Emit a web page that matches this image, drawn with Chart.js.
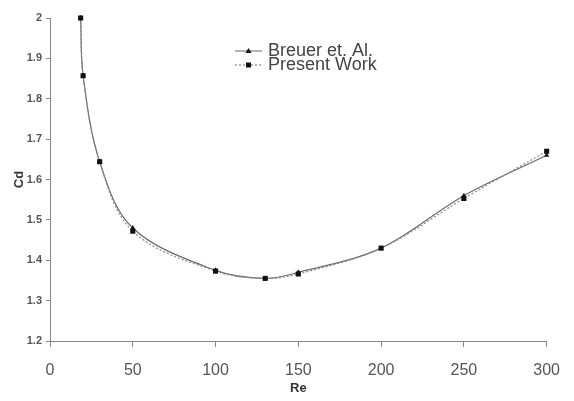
<!DOCTYPE html>
<html>
<head>
<meta charset="utf-8">
<script src="https://cdn.jsdelivr.net/npm/chart.js@4"></script>
<style>
  html, body { margin: 0; padding: 0; background: #fff; }
  #wrap { width: 574px; height: 401px; }
</style>
</head>
<body>
<div id="wrap"><canvas id="myChart" width="574" height="401"></canvas></div>
<script>
"use strict";
// values
var re = [18.5, 20, 30, 50, 100, 130, 150, 200, 250, 300];
var breuer = [2.0, 1.857, 1.644, 1.48, 1.375, 1.355, 1.37, 1.43, 1.56, 1.66];
var present = [2.0, 1.857, 1.644, 1.472, 1.373, 1.355, 1.366, 1.43, 1.553, 1.67];
var seriesNames = ["Breuer et. Al.", "Present Work"];
var xTicks = [0, 50, 100, 150, 200, 250, 300];
var yTicks = [1.2, 1.3, 1.4, 1.5, 1.6, 1.7, 1.8, 1.9, 2];

function toPoints(xs, ys) {
	var pts = [];
	for (var i = 0; i < xs.length; i = i + 1) {
		pts.push({x: xs[i], y: ys[i]});
	}
	return pts;
}

// hand drawn legend, like the excel one in the middle of the plot
var legendPlugin = {
	id: "excelLegend",
	afterDraw: function (chart) {
		var ctx = chart.ctx;
		var rows = [
			{y: 51, dash: [], style: "triangle"},
			{y: 65, dash: [2, 2], style: "rect"}
		];
		ctx.save();
		for (var i = 0; i < rows.length; i = i + 1) {
			var r = rows[i];
			ctx.strokeStyle = "#666";
			ctx.lineWidth = 1;
			ctx.setLineDash(r.dash);
			ctx.beginPath();
			ctx.moveTo(235, r.y);
			ctx.lineTo(262, r.y);
			ctx.stroke();
			ctx.setLineDash([]);
			ctx.fillStyle = "#111";
			ctx.beginPath();
			if (r.style === "rect") {
				ctx.rect(246, r.y - 2.5, 5, 5);
			} else {
				ctx.moveTo(248.5, r.y - 3);
				ctx.lineTo(251.5, r.y + 2);
				ctx.lineTo(245.5, r.y + 2);
				ctx.closePath();
			}
			ctx.fill();
			ctx.fillStyle = "#444";
			ctx.font = "18px 'Liberation Sans', Arial, sans-serif";
			ctx.textBaseline = "alphabetic";
			ctx.fillText(seriesNames[i], 268, r.y + 5);
		}
		ctx.restore();
	}
};

function buildChart() {
	var ctx = document.getElementById("myChart");
	var myChart = new Chart(ctx, {
		type: "line",
		data: {
			datasets: [
				{
					label: seriesNames[0],
					data: toPoints(re, breuer),
					borderColor: "#6a6a6a",
					borderWidth: 1.2,
					pointStyle: "triangle",
					pointRadius: 3,
					pointBackgroundColor: "#111",
					pointBorderWidth: 0,
					tension: 0.35,
					fill: false,
					order: 1
				},
				{
					label: seriesNames[1],
					data: toPoints(re, present),
					borderColor: "#8a8a8a",
					borderWidth: 1.2,
					borderDash: [2, 2],
					pointStyle: "rect",
					pointRadius: 3.6,
					pointBackgroundColor: "#111",
					pointBorderWidth: 0,
					tension: 0.35,
					fill: false,
					order: 0
				}
			]
		},
		options: {
			responsive: false,
			animation: false,
			clip: false,
			layout: { padding: { top: 18, right: 22, left: 0, bottom: 0 } },
			plugins: { legend: { display: false }, tooltip: { enabled: false } },
			scales: {
				x: {
					type: "linear",
					min: 0,
					max: 300,
					afterBuildTicks: function (axis) {
						axis.ticks = xTicks.map(function (v) { return {value: v}; });
					},
					afterFit: function (axis) { axis.height = 60; },
					grid: { drawOnChartArea: false, drawTicks: true, tickLength: 6, color: "#888" },
					border: { display: true, color: "#888" },
					ticks: {
						color: "#555",
						padding: 14,
						maxRotation: 0,
						font: { family: "'Liberation Sans', Arial, sans-serif", size: 16 }
					},
					title: {
						display: true,
						text: "Re",
						color: "#333",
						padding: { top: 0, bottom: 5 },
						font: { family: "'Liberation Sans', Arial, sans-serif", size: 13, weight: "bold" }
					}
				},
				y: {
					type: "linear",
					min: 1.2,
					max: 2,
					afterBuildTicks: function (axis) {
						axis.ticks = yTicks.map(function (v) { return {value: v}; });
					},
					afterFit: function (axis) { axis.width = 50; },
					grid: { drawOnChartArea: false, drawTicks: true, tickLength: 4, color: "#888" },
					border: { display: true, color: "#888" },
					ticks: {
						color: "#555",
						padding: 4,
						font: { family: "'Liberation Sans', Arial, sans-serif", size: 11, weight: "bold" },
						callback: function (v) { return String(Math.round(v * 10) / 10); }
					},
					title: {
						display: true,
						text: "Cd",
						color: "#333",
						padding: { top: 12, bottom: 0 },
						font: { family: "'Liberation Sans', Arial, sans-serif", size: 13, weight: "bold" }
					}
				}
			}
		},
		plugins: [legendPlugin]
	});
}

buildChart();
</script>
</body>
</html>
